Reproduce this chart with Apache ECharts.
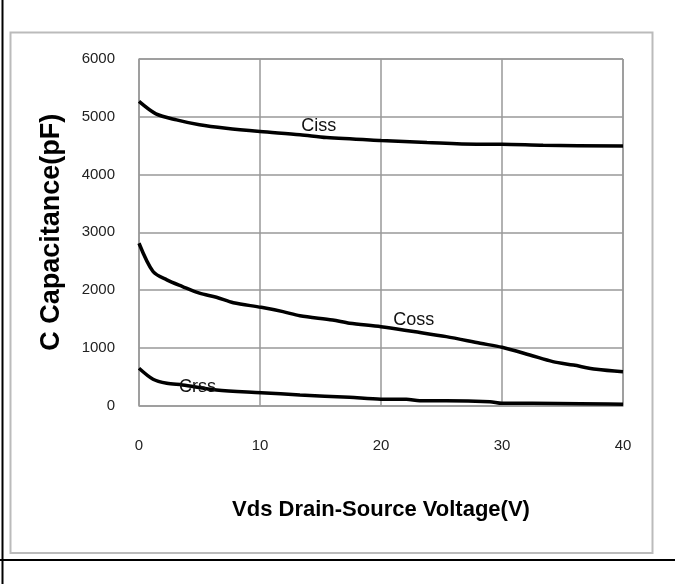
<!DOCTYPE html>
<html>
<head>
<meta charset="utf-8">
<script src="https://cdn.jsdelivr.net/npm/echarts@6/dist/echarts.min.js"></script>
<style>html,body{margin:0;padding:0;background:#fff;}#c{width:675px;height:584px;}</style>
</head>
<body>
<div id="c"></div>
<script>
// Data (V in volts, C in pF)
var cissData = [[0,5265],[1.4,5050],[3.1,4945],[5,4860],[7.2,4800],[10,4745],[13.3,4690],[15.5,4640],[20,4590],[23.8,4555],[27.9,4525],[30,4525],[33.4,4505],[40,4495]];
var cossData = [[0,2810],[1.16,2320],[2.3,2175],[3.6,2060],[5,1945],[6.4,1875],[7.8,1780],[10.1,1700],[11.9,1625],[13.3,1555],[16,1480],[17.4,1425],[20,1365],[22.7,1280],[25.4,1193],[28.2,1078],[30,1008],[32.3,875],[34.2,760],[35.9,700],[37.8,627],[40,586]];
var crssData = [[0,645],[1.16,455],[2.3,385],[3.6,355],[6.4,268],[10.1,222],[13.3,182],[17.4,142],[20,110],[22.1,110],[23.2,84],[25.4,84],[29,66],[30,38],[32.5,38],[40,20]];
var seriesNames = ['Ciss','Coss','Crss'];
var labelPos = [[14.85,4832],[22.7,1482],[4.84,326]];
var xTicks = [0,10,20,30,40];
var yTicks = [0,1000,2000,3000,4000,5000,6000];

var chart = echarts.init(document.getElementById('c'), null, {renderer:'canvas'});
var sans = '"Liberation Sans",Arial,sans-serif';
function mk(name, data, pos){
  return {
    name: name, type: 'line', data: data, showSymbol: false, smooth: 0.3,
    lineStyle: {color: '#000', width: 3.5}, z: 3,
    markPoint: {
      symbol: 'rect', symbolSize: 1, itemStyle: {color: 'rgba(0,0,0,0)'},
      data: [{coord: pos, value: name}],
      label: {show: true, position: 'inside', formatter: name, color: '#111', fontSize: 18, fontFamily: sans}
    }
  };
}
var datasets = [cissData, cossData, crssData];
var option = {
  animation: false,
  backgroundColor: '#fff',
  grid: {left: 139, top: 59, right: 52, bottom: 178.5, show: false},
  xAxis: {
    type: 'value', min: xTicks[0], max: xTicks[xTicks.length-1], interval: 10,
    name: 'Vds Drain-Source Voltage(V)', nameLocation: 'middle', nameGap: 93,
    nameTextStyle: {color: '#000', fontSize: 22, fontWeight: 'bold', fontFamily: sans},
    axisLine: {show: true, lineStyle: {color: '#999', width: 1.5}},
    axisTick: {show: false},
    axisLabel: {color: '#222', fontSize: 15, margin: 33, fontFamily: sans, formatter: function(v){ return String(v); }},
    splitLine: {show: true, lineStyle: {color: '#999', width: 1.5}}
  },
  yAxis: {
    type: 'value', min: yTicks[0], max: yTicks[yTicks.length-1], interval: 1000,
    name: 'C Capacitance(pF)', nameLocation: 'middle', nameGap: 74, nameRotate: 90,
    nameTextStyle: {color: '#000', fontSize: 27, fontWeight: 'bold', fontFamily: sans},
    axisLine: {show: true, lineStyle: {color: '#999', width: 1.5}},
    axisTick: {show: false},
    axisLabel: {color: '#222', fontSize: 15, margin: 24, fontFamily: sans, formatter: function(v){ return String(v); }},
    splitLine: {show: true, lineStyle: {color: '#999', width: 1.5}}
  },
  graphic: [
    {type: 'rect', shape: {x: 10.5, y: 32.5, width: 642, height: 520.5}, style: {fill: 'none', stroke: '#bbb', lineWidth: 2}, z: 0},
    {type: 'line', shape: {x1: 623, y1: 59, x2: 623, y2: 405.5}, style: {stroke: '#999', lineWidth: 1.5}, z: 1},
    {type: 'line', shape: {x1: 139, y1: 59, x2: 623, y2: 59}, style: {stroke: '#999', lineWidth: 1.5}, z: 1},
    {type: 'line', shape: {x1: 2.5, y1: 0, x2: 2.5, y2: 584}, style: {stroke: '#000', lineWidth: 2}, z: 5},
    {type: 'line', shape: {x1: 0, y1: 560, x2: 675, y2: 560}, style: {stroke: '#000', lineWidth: 2}, z: 5}
  ],
  series: seriesNames.map(function(n, i){ return mk(n, datasets[i], labelPos[i]); })
};
chart.setOption(option);
</script>
</body>
</html>
